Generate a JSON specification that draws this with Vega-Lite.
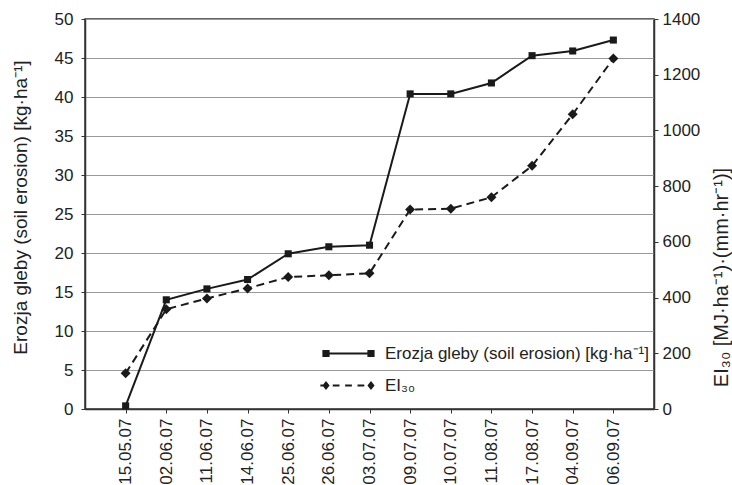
{
  "$schema": "https://vega.github.io/schema/vega-lite/v6.json",
  "width": 569,
  "height": 390,
  "autosize": {"type": "none"},
  "padding": {"left": 85, "top": 19, "right": 78, "bottom": 76},
  "background": "white",
  "config": {
    "font": "Liberation Sans",
    "view": {"stroke": "#333", "strokeWidth": 1.5},
    "axis": {"labelColor": "#222", "titleColor": "#222", "titleFontWeight": "normal", "domainColor": "#333", "tickColor": "#333", "labelFont": "Liberation Sans", "titleFont": "Liberation Sans"}
  },
  "data": {
    "values": [
      {"date": "15.05.07", "erosion": 0.4, "ei": 128},
      {"date": "02.06.07", "erosion": 14.0, "ei": 358},
      {"date": "11.06.07", "erosion": 15.4, "ei": 397},
      {"date": "14.06.07", "erosion": 16.6, "ei": 433},
      {"date": "25.06.07", "erosion": 19.9, "ei": 474},
      {"date": "26.06.07", "erosion": 20.8, "ei": 480},
      {"date": "03.07.07", "erosion": 21.0, "ei": 487},
      {"date": "09.07.07", "erosion": 40.4, "ei": 716},
      {"date": "10.07.07", "erosion": 40.4, "ei": 719},
      {"date": "11.08.07", "erosion": 41.8, "ei": 760},
      {"date": "17.08.07", "erosion": 45.3, "ei": 873},
      {"date": "04.09.07", "erosion": 45.9, "ei": 1058},
      {"date": "06.09.07", "erosion": 47.3, "ei": 1258}
    ]
  },
  "encoding": {
    "x": {
      "field": "date", "type": "ordinal", "sort": null,
      "scale": {"type": "point", "padding": 1},
      "axis": {"title": null, "labelAngle": -90, "labelFontSize": 17, "tickSize": 4, "labelPadding": 5, "domainWidth": 1.5, "grid": false}
    }
  },
  "layer": [
    {
      "encoding": {
        "y": {
          "field": "erosion", "type": "quantitative",
          "scale": {"domain": [0, 50], "nice": false},
          "axis": {
            "title": "Erozja gleby (soil erosion) [kg·ha⁻¹]",
            "titleFontSize": 19, "titleAngle": -90, "titleX": -65, "titleY": 188, "titleAlign": "center", "titleBaseline": "middle",
            "values": [0, 5, 10, 15, 20, 25, 30, 35, 40, 45, 50],
            "labelFontSize": 17, "tickSize": 4, "labelPadding": 8,
            "grid": true, "gridColor": "#999", "gridWidth": 1.2, "domainWidth": 1.5
          }
        }
      },
      "layer": [
        {"mark": {"type": "line", "color": "#1a1a1a", "strokeWidth": 2}},
        {"mark": {"type": "point", "shape": "square", "filled": true, "color": "#1a1a1a", "size": 50, "opacity": 1}},
        {
          "transform": [{"fold": ["erosion", "ei"], "as": ["series", "v"]}],
          "mark": {"type": "point", "filled": true, "color": "#1a1a1a", "opacity": 0},
          "encoding": {
            "shape": {
              "field": "series", "type": "nominal",
              "scale": {
                "domain": ["erosion", "ei"],
                "range": [
                  "M-1,-0.04H1V0.04H-1ZM-1.16,-0.16h0.32v0.32h-0.32ZM0.84,-0.16h0.32v0.32h-0.32Z",
                  "M-1.25,-0.04H-0.9V0.04H-1.25ZM-0.7,-0.04H-0.4V0.04H-0.7ZM-0.15,-0.04H0.15V0.04H-0.15ZM0.4,-0.04H0.7V0.04H0.4ZM0.9,-0.04H1V0.04H0.9ZM-1,-0.2L-0.84,0L-1,0.2L-1.16,0ZM1,-0.2L1.16,0L1,0.2L0.84,0Z"
                ]
              },
              "legend": {
                "title": null,
                "orient": "none",
                "legendX": 240,
                "legendY": 311,
                "labelExpr": "datum.value == 'erosion' ? 'Erozja gleby (soil erosion) [kg·ha⁻¹]' : 'EI₃₀'",
                "labelFontSize": 17,
                "labelLimit": 0,
                "labelColor": "#222",
                "labelFont": "Liberation Sans",
                "symbolSize": 2025,
                "symbolOpacity": 1,
                "rowPadding": -3,
                "labelOffset": 13,
                "padding": 0,
                "encode": {
                  "symbols": {
                    "update": {
                      "fill": {"value": "#1a1a1a"},
                      "opacity": {"value": 1}
                    }
                  }
                }
              }
            }
          }
        }
      ]
    },
    {
      "encoding": {
        "y": {
          "field": "ei", "type": "quantitative",
          "scale": {"domain": [0, 1400], "nice": false},
          "axis": {
            "orient": "right",
            "title": "EI₃₀ [MJ·ha⁻¹)·(mm·hr⁻¹)]",
            "titleFontSize": 20, "titleAngle": -90, "titleX": 67, "titleY": 258, "titleAlign": "center", "titleBaseline": "middle",
            "values": [0, 200, 400, 600, 800, 1000, 1200, 1400],
            "format": "d",
            "labelFontSize": 17, "tickSize": 4, "labelPadding": 4,
            "grid": false, "domainWidth": 1.5
          }
        }
      },
      "layer": [
        {"mark": {"type": "line", "color": "#1a1a1a", "strokeWidth": 2, "strokeDash": [8, 5]}},
        {"mark": {"type": "point", "shape": "diamond", "filled": true, "color": "#1a1a1a", "size": 100, "opacity": 1}}
      ]
    }
  ],
  "resolve": {"scale": {"y": "independent"}}
}
